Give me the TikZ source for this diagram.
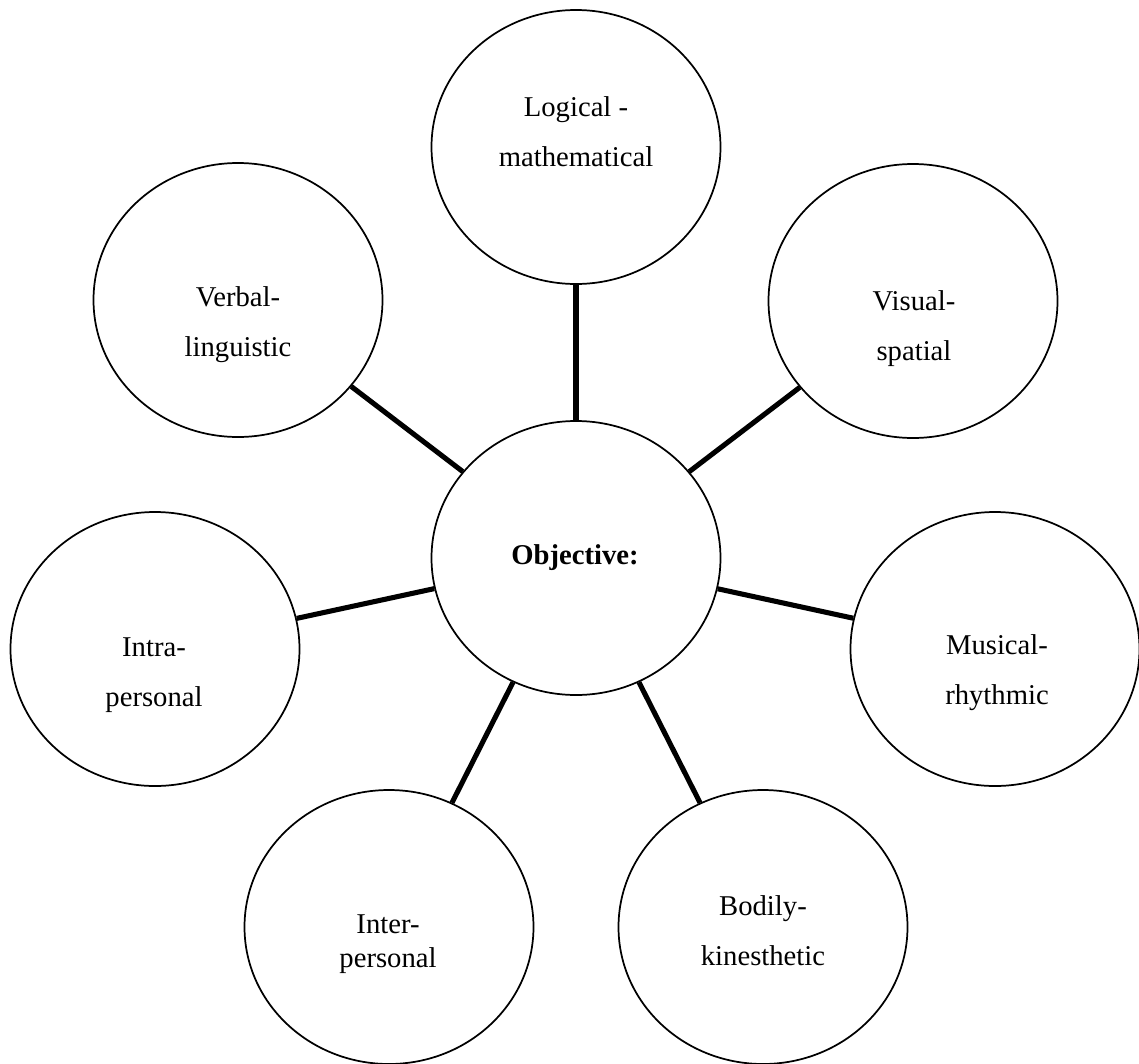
\documentclass[tikz,border=0pt]{standalone}
\usepackage{fontspec}
\setmainfont{Liberation Serif}
\usetikzlibrary{shapes.geometric}
\begin{document}
\begin{tikzpicture}[x=0.75pt,y=-0.75pt,
  bubble/.style={ellipse,draw,line width=1.3pt,minimum width=216.75pt,minimum height=205.5pt,inner sep=0pt},
  lbl/.style={align=center,font=\fontsize{21.5}{37.5}\selectfont,inner sep=0pt},
  link/.style={line width=3.8pt}]
\useasboundingbox (0,0) rectangle (1139,1064);
% bubbles
\node[bubble] (obj) at (576,558) {};
\node[bubble] (log) at (576,147) {};
\node[bubble] (ver) at (238,300) {};
\node[bubble] (vis) at (913,301) {};
\node[bubble] (int) at (155,649) {};
\node[bubble] (mus) at (995,649) {};
\node[bubble] (ite) at (389,927) {};
\node[bubble] (bod) at (763,927) {};
% texts
\node[lbl,font=\fontsize{21.5}{26}\selectfont\bfseries] (objt) at (575,558) {Objective:};
\node[lbl] (logt) at (576,132) {Logical -\\mathematical};
\node[lbl] (vert) at (238,325) {Verbal-\\linguistic};
\node[lbl] (vist) at (914,329) {Visual-\\spatial};
\node[lbl] (intt) at (154,675) {Intra-\\personal};
\node[lbl] (must) at (997,673) {Musical-\\rhythmic};
\node[lbl,font=\fontsize{21.5}{26}\selectfont] (itet) at (388,944) {Inter-\\personal};
\node[lbl] (bodt) at (763,931) {Bodily-\\kinesthetic};
% connectors
\draw[link] (log) -- (obj);
\draw[link] (ver) -- (obj);
\draw[link] (vis) -- (obj);
\draw[link] (int) -- (obj);
\draw[link] (mus) -- (obj);
\draw[link] (ite) -- (obj);
\draw[link] (bod) -- (obj);
\end{tikzpicture}
\end{document}
